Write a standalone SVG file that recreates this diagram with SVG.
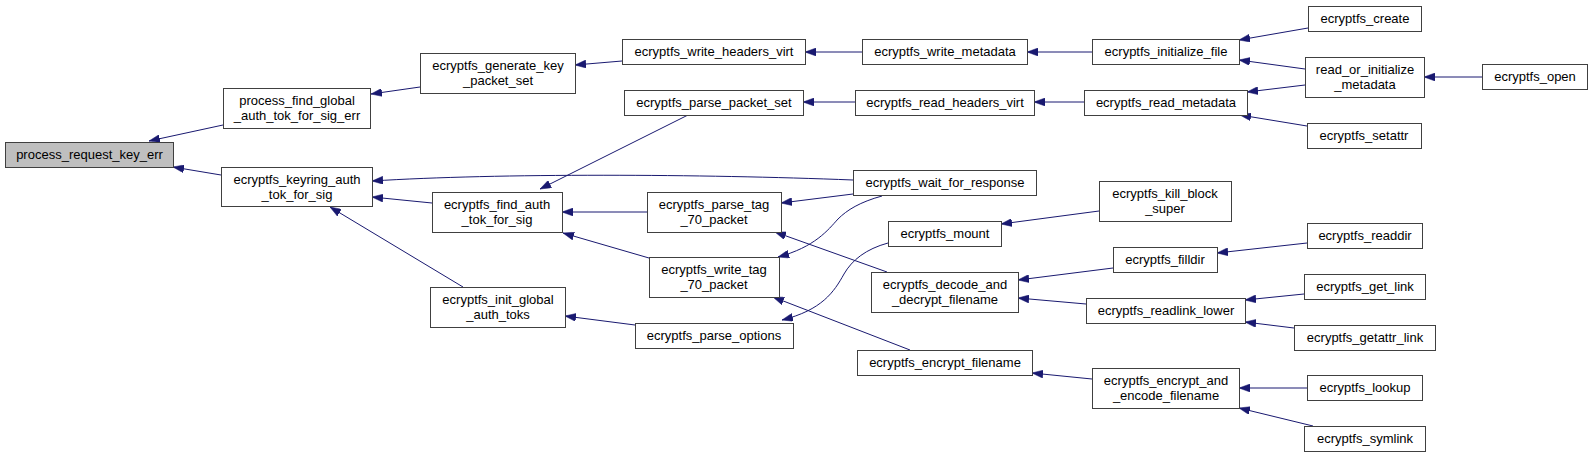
<svg xmlns="http://www.w3.org/2000/svg" width="1592" height="457" viewBox="0 0 1592 457">
<style>
.n rect{fill:#ffffff;stroke:#404040;stroke-width:1}
.n rect.root{fill:#bfbfbf}
.n text{font-family:"Liberation Sans",Arial,Helvetica,sans-serif;font-size:13px;fill:#000;text-anchor:middle}
#edges path{fill:none;stroke:#191970;stroke-width:1;marker-end:url(#ah)}
</style>
<defs>
<marker id="ah" markerUnits="userSpaceOnUse" markerWidth="11" markerHeight="8" refX="11" refY="4" orient="auto">
<path d="M0,0 L11,4 L0,8 z" fill="#191970" stroke="#191970" stroke-width="0.5"/>
</marker>
</defs>
<rect width="1592" height="457" fill="#ffffff"/>
<g id="edges">
<path d="M223,125 L149,141"/>
<path d="M221,175 L173,167"/>
<path d="M420,87 L371,94"/>
<path d="M622,61 L575,65"/>
<path d="M862,52 L805,52"/>
<path d="M1092,52 L1027,52"/>
<path d="M1308,28 L1239,40"/>
<path d="M1305,69 L1239,60"/>
<path d="M1305,85 L1247,92"/>
<path d="M1482,77 L1424,77"/>
<path d="M1307,126 L1240,115"/>
<path d="M1084,102 L1034,102"/>
<path d="M855,102 L803,102"/>
<path d="M688,115 L540,189"/>
<path d="M853,180 C700,174 500,173 372,181"/>
<path d="M647,212 L562,212"/>
<path d="M649,258 L563,233"/>
<path d="M432,203 L372,197"/>
<path d="M463,287 L330,207"/>
<path d="M635,325 L565,316"/>
<path d="M853,194 L781,203"/>
<path d="M882,196 C860,202 847,210 838,219 C828,230 815,247 778,257"/>
<path d="M887,272 L775,232"/>
<path d="M910,350 L773,297"/>
<path d="M1099,211 L1001,224"/>
<path d="M1113,268 L1018,280"/>
<path d="M1086,304 L1018,298"/>
<path d="M1307,243 L1217,253"/>
<path d="M1304,294 L1245,300"/>
<path d="M1294,328 L1245,322"/>
<path d="M1092,379 L1032,373"/>
<path d="M1307,388 L1239,388"/>
<path d="M1313,426 L1239,408"/>
<path d="M888,243 C866,249 852,260 844,274 C834,292 822,310 782,320"/>
</g>
<g id="n0" class="n"><rect class="root" x="5.5" y="142.5" width="168" height="25"/><text x="89.5" y="159">process_request_key_err</text></g>
<g id="n1" class="n"><rect x="223.5" y="88.5" width="147" height="40"/><text x="297" y="105">process_find_global</text><text x="297" y="120">_auth_tok_for_sig_err</text></g>
<g id="n2" class="n"><rect x="221.5" y="167.5" width="151" height="39"/><text x="297" y="184">ecryptfs_keyring_auth</text><text x="297" y="199">_tok_for_sig</text></g>
<g id="n3" class="n"><rect x="420.5" y="53.5" width="155" height="40"/><text x="498" y="70">ecryptfs_generate_key</text><text x="498" y="85">_packet_set</text></g>
<g id="n4" class="n"><rect x="622.5" y="39.5" width="183" height="25"/><text x="714" y="56">ecryptfs_write_headers_virt</text></g>
<g id="n5" class="n"><rect x="624.5" y="90.5" width="179" height="25"/><text x="714" y="107">ecryptfs_parse_packet_set</text></g>
<g id="n6" class="n"><rect x="432.5" y="192.5" width="130" height="40"/><text x="497" y="209">ecryptfs_find_auth</text><text x="497" y="224">_tok_for_sig</text></g>
<g id="n7" class="n"><rect x="647.5" y="192.5" width="134" height="40"/><text x="714" y="209">ecryptfs_parse_tag</text><text x="714" y="224">_70_packet</text></g>
<g id="n8" class="n"><rect x="649.5" y="257.5" width="130" height="40"/><text x="714" y="274">ecryptfs_write_tag</text><text x="714" y="289">_70_packet</text></g>
<g id="n9" class="n"><rect x="430.5" y="287.5" width="135" height="40"/><text x="498" y="304">ecryptfs_init_global</text><text x="498" y="319">_auth_toks</text></g>
<g id="n10" class="n"><rect x="635.5" y="323.5" width="158" height="25"/><text x="714" y="340">ecryptfs_parse_options</text></g>
<g id="n11" class="n"><rect x="862.5" y="39.5" width="165" height="25"/><text x="945" y="56">ecryptfs_write_metadata</text></g>
<g id="n12" class="n"><rect x="1092.5" y="39.5" width="147" height="25"/><text x="1166" y="56">ecryptfs_initialize_file</text></g>
<g id="n13" class="n"><rect x="855.5" y="90.5" width="179" height="25"/><text x="945" y="107">ecryptfs_read_headers_virt</text></g>
<g id="n14" class="n"><rect x="1084.5" y="90.5" width="163" height="25"/><text x="1166" y="107">ecryptfs_read_metadata</text></g>
<g id="n15" class="n"><rect x="853.5" y="170.5" width="183" height="25"/><text x="945" y="187">ecryptfs_wait_for_response</text></g>
<g id="n16" class="n"><rect x="1099.5" y="181.5" width="132" height="40"/><text x="1165" y="198">ecryptfs_kill_block</text><text x="1165" y="213">_super</text></g>
<g id="n17" class="n"><rect x="888.5" y="221.5" width="113" height="25"/><text x="945" y="238">ecryptfs_mount</text></g>
<g id="n18" class="n"><rect x="1113.5" y="247.5" width="104" height="25"/><text x="1165" y="264">ecryptfs_filldir</text></g>
<g id="n19" class="n"><rect x="871.5" y="272.5" width="147" height="40"/><text x="945" y="289">ecryptfs_decode_and</text><text x="945" y="304">_decrypt_filename</text></g>
<g id="n20" class="n"><rect x="1086.5" y="298.5" width="159" height="25"/><text x="1166" y="315">ecryptfs_readlink_lower</text></g>
<g id="n21" class="n"><rect x="857.5" y="350.5" width="175" height="25"/><text x="945" y="367">ecryptfs_encrypt_filename</text></g>
<g id="n22" class="n"><rect x="1092.5" y="368.5" width="147" height="40"/><text x="1166" y="385">ecryptfs_encrypt_and</text><text x="1166" y="400">_encode_filename</text></g>
<g id="n23" class="n"><rect x="1308.5" y="6.5" width="113" height="25"/><text x="1365" y="23">ecryptfs_create</text></g>
<g id="n24" class="n"><rect x="1305.5" y="57.5" width="119" height="40"/><text x="1365" y="74">read_or_initialize</text><text x="1365" y="89">_metadata</text></g>
<g id="n25" class="n"><rect x="1482.5" y="64.5" width="105" height="25"/><text x="1535" y="81">ecryptfs_open</text></g>
<g id="n26" class="n"><rect x="1307.5" y="123.5" width="114" height="25"/><text x="1364" y="140">ecryptfs_setattr</text></g>
<g id="n27" class="n"><rect x="1307.5" y="223.5" width="115" height="25"/><text x="1365" y="240">ecryptfs_readdir</text></g>
<g id="n28" class="n"><rect x="1304.5" y="274.5" width="121" height="25"/><text x="1365" y="291">ecryptfs_get_link</text></g>
<g id="n29" class="n"><rect x="1294.5" y="325.5" width="141" height="25"/><text x="1365" y="342">ecryptfs_getattr_link</text></g>
<g id="n30" class="n"><rect x="1307.5" y="375.5" width="115" height="25"/><text x="1365" y="392">ecryptfs_lookup</text></g>
<g id="n31" class="n"><rect x="1304.5" y="426.5" width="121" height="25"/><text x="1365" y="443">ecryptfs_symlink</text></g>
</svg>
